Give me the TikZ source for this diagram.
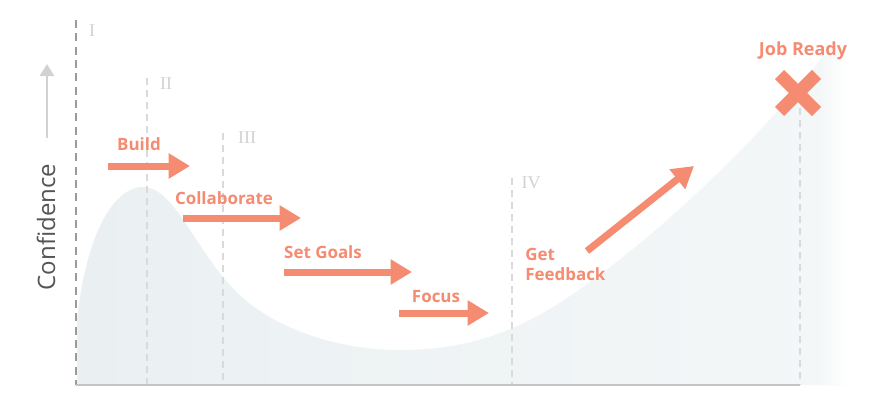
\documentclass[tikz,border=0pt]{standalone}
\usepackage{fontspec}
\setmainfont{Open Sans}
\newfontfamily\numfont{Liberation Serif}
\usetikzlibrary{arrows.meta}
\definecolor{coral}{HTML}{F58B71}
\definecolor{hillfill}{HTML}{EAF0F2}
\definecolor{hillright}{HTML}{F4F7F8}
\definecolor{darkdash}{HTML}{9A9A9A}
\definecolor{lightdash}{HTML}{DADADA}
\definecolor{numgray}{HTML}{D2D2D2}
\definecolor{axisgray}{HTML}{C4C4C4}
\definecolor{labelgray}{HTML}{555555}
\begin{document}
\begin{tikzpicture}[x=0.75pt,y=-0.75pt,
  stagelabel/.style={font=\bfseries\fontsize{12.7}{15}\selectfont, text=coral, inner sep=0pt},
  numlabel/.style={font=\numfont\fontsize{13.5}{15}\selectfont, text=numgray, inner sep=0pt},
  bigarrow/.style={coral, line width=5.25pt, -{Triangle[width=18pt,length=16pt]}},
  phaseline/.style={lightdash, line width=0.8pt, dash pattern=on 5pt off 4pt},
]
\useasboundingbox (0,0) rectangle (880,400);
\fill[white] (0,0) rectangle (880,400);

% hill area
\shade[left color=hillfill, right color=hillright]
  (77,385) -- (77,322)
  .. controls (84,245) and (110,187) .. (143,187)
  .. controls (178,187) and (200,266) .. (250,304)
  .. controls (290,334) and (345,350) .. (400,350)
  .. controls (465,350) and (515,333) .. (567,298)
  .. controls (650,243) and (760,140) .. (822,57)
  -- (845,50) -- (845,385) -- cycle;
\shade[left color=hillright, right color=white] (820,58) -- (845,50) -- (845,385) -- (820,385) -- cycle;

% phase lines
\coordinate (p1t) at (76,20);   \coordinate (p1b) at (76,385);
\coordinate (p2t) at (147,78);  \coordinate (p2b) at (147,385);
\coordinate (p3t) at (223,133); \coordinate (p3b) at (223,385);
\coordinate (p4t) at (512,178); \coordinate (p4b) at (512,385);
\coordinate (p5t) at (800,108); \coordinate (p5b) at (800,385);
\draw[darkdash, line width=1.1pt, dash pattern=on 6pt off 4pt] (p1t) -- (p1b);
\draw[phaseline] (p2t) -- (p2b);
\draw[phaseline] (p3t) -- (p3b);
\draw[phaseline] (p4t) -- (p4b);
\draw[phaseline] (p5t) -- (p5b);
\node[numlabel] (n1) at (92,31) {I};
\node[numlabel] (n2) at (166,84) {II};
\node[numlabel] (n3) at (247,138) {III};
\node[numlabel] (n4) at (531,183) {IV};

% axis
\coordinate (ax0) at (76,385); \coordinate (ax1) at (800,385);
\draw[axisgray, line width=1.5pt] (ax0) -- (ax1);

% y label
\node[font=\fontsize{18}{20}\selectfont, text=labelgray, rotate=90, inner sep=0pt] (conf) at (46,227) {Confidence};
\coordinate (ua0) at (47,138); \coordinate (ua1) at (47,64);
\draw[numgray, line width=2.2pt, -{Triangle[width=10.5pt,length=9pt]}] (ua0) -- (ua1);

% stages
\node[stagelabel] (build) at (139,144) {Build};
\coordinate (b0) at (108,166); \coordinate (b1) at (190,166);
\draw[bigarrow] (b0) -- (b1);

\node[stagelabel] (collab) at (224,198) {Collaborate};
\coordinate (c0) at (183,218); \coordinate (c1) at (301,218);
\draw[bigarrow] (c0) -- (c1);

\node[stagelabel] (goals) at (323,252) {Set Goals};
\coordinate (g0) at (284,272); \coordinate (g1) at (412,272);
\draw[bigarrow] (g0) -- (g1);

\node[stagelabel] (focus) at (436,297) {Focus};
\coordinate (f0) at (399,313); \coordinate (f1) at (489,313);
\draw[bigarrow] (f0) -- (f1);

\node[stagelabel, align=left, anchor=west, font=\bfseries\fontsize{12.7}{15}\selectfont] (feed) at (525,264) {Get\\Feedback};
\coordinate (e0) at (587,251); \coordinate (e1) at (694,166);
\draw[bigarrow] (e0) -- (e1);

% job ready
\node[stagelabel, font=\bfseries\fontsize{13.5}{15}\selectfont] (job) at (803,51) {Job Ready};
\coordinate (xc) at (798,93);
\draw[coral, line width=9.75pt] ([shift={(-18.5,-18.5)}]xc) -- ([shift={(18.5,18.5)}]xc);
\draw[coral, line width=9.75pt] ([shift={(-18.5,18.5)}]xc) -- ([shift={(18.5,-18.5)}]xc);
\end{tikzpicture}
\end{document}
